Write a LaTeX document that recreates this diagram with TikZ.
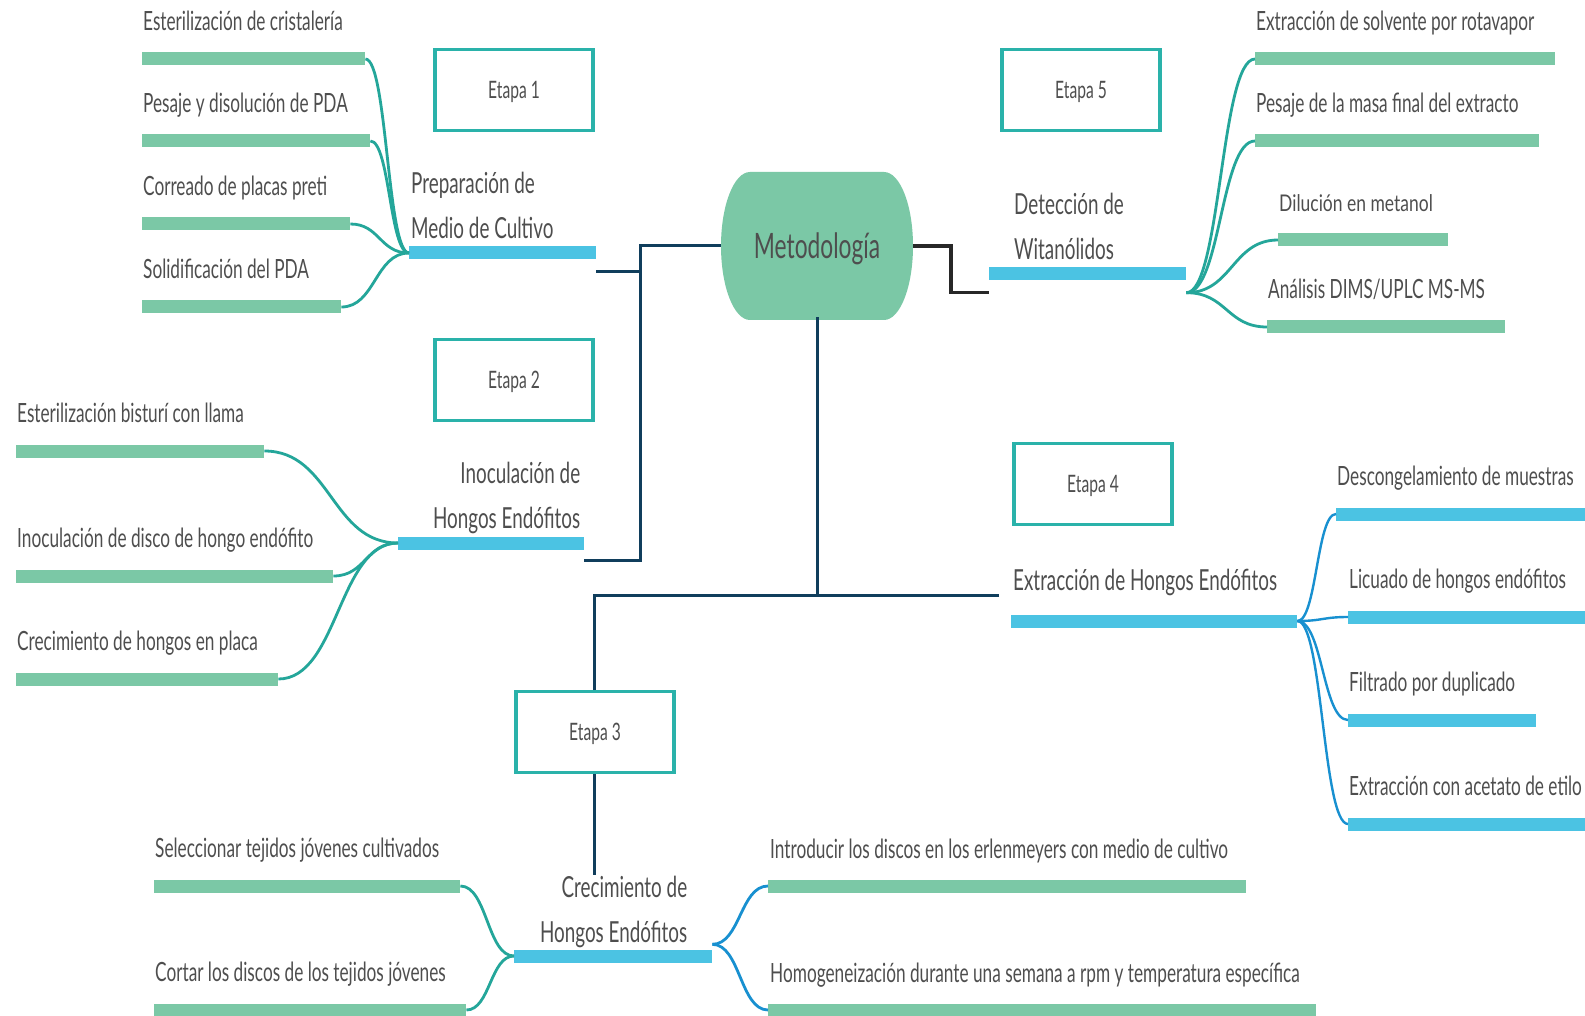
\documentclass[tikz,border=0pt]{standalone}
\usepackage{fontspec}
\setmainfont[FakeStretch=0.65]{Lato}
\newfontfamily\widelato[FakeStretch=0.76]{Lato}
\usetikzlibrary{positioning,calc}

\definecolor{leafgreen}{RGB}{123,200,166}
\definecolor{stemblue}{RGB}{75,195,227}
\definecolor{twigteal}{RGB}{36,166,154}
\definecolor{twigblue}{RGB}{24,144,208}
\definecolor{stageteal}{RGB}{42,178,170}
\definecolor{trunknavy}{RGB}{16,62,92}
\definecolor{darkline}{RGB}{40,40,40}
\definecolor{inkgray}{RGB}{78,78,78}

\tikzset{
  leafbar/.style={fill=leafgreen, inner sep=0pt, minimum height=13pt, anchor=west},
  stembar/.style={leafbar, fill=stemblue},
  leaftext/.style={inner sep=0pt, text depth=0pt, text=inkgray,
    font=\fontsize{26.5}{30}\selectfont},
  stemtext/.style={inner sep=0pt, text depth=0pt, text=inkgray,
    font=\fontsize{29}{45}\selectfont},
  stagebox/.style={draw=stageteal, line width=3.5pt, fill=white,
    minimum width=158pt, minimum height=81pt, text=inkgray,
    text height=17pt, text depth=0pt,
    font=\fontsize{24}{28}\selectfont},
  root/.style={minimum width=192pt, minimum height=148pt, inner sep=0pt,
    text=inkgray, text height=25pt, text depth=0pt,
    font=\fontsize{35}{40}\selectfont},
  twig/.style={line width=2.8pt, to path={
    let \p1=(\tikztostart), \p2=(\tikztotarget), \n1={0.5*(\x2-\x1)} in
    .. controls +(\n1,0) and +(-\n1,0) .. (\tikztotarget)}},
  trunk/.style={draw=trunknavy, line width=3pt},
}

\begin{document}
\begin{tikzpicture}[x=1pt, y=-1pt]
  \path[use as bounding box, fill=white] (0,0) rectangle (1585,1016);

  % central pill: flat top and bottom, half-ellipse sides
  \fill[leafgreen] (750,172) -- (884,172)
    arc[start angle=-90, end angle=90, x radius=29, y radius=74]
    -- (750,320)
    arc[start angle=90, end angle=270, x radius=29, y radius=74] -- cycle;
  \node[root] (root) at (817,246) {Metodología};

  % Etapa 1: medio de cultivo
  \node[stembar, minimum width=187pt] (bar1) at (409,253) {};
  \node[stemtext, align=left, above right=8pt and 2pt of bar1.north west] (t1)
    {Preparación de\\Medio de Cultivo};
  \node[leafbar, minimum width=223pt] (p1a) at (142,59) {};
  \node[leafbar, minimum width=228pt] (p1b) at (142,141) {};
  \node[leafbar, minimum width=208pt] (p1c) at (142,224) {};
  \node[leafbar, minimum width=199pt] (p1d) at (142,307) {};
  \node[leaftext, above right=22pt and 1pt of p1a.north west] {Esterilización de cristalería};
  \node[leaftext, above right=22pt and 1pt of p1b.north west] {Pesaje y disolución de PDA};
  \node[leaftext, above right=22pt and 1pt of p1c.north west] {Correado de placas preti};
  \node[leaftext, above right=22pt and 1pt of p1d.north west] {Solidificación del PDA};
  \foreach \l in {p1a,p1b,p1c,p1d}
    \draw[twig, twigteal] (\l.east) to (bar1.west);

  % Etapa 2: inoculacion
  \node[stembar, minimum width=186pt] (bar2) at (398,543) {};
  \node[stemtext, align=right, above left=8pt and 4pt of bar2.north east] (t2)
    {Inoculación de\\Hongos Endófitos};
  \node[leafbar, minimum width=248pt] (i2a) at (16,451) {};
  \node[leafbar, minimum width=317pt] (i2b) at (16,576) {};
  \node[leafbar, minimum width=262pt] (i2c) at (16,679) {};
  \node[leaftext, above right=22pt and 1pt of i2a.north west] {Esterilización bisturí con llama};
  \node[leaftext, above right=22pt and 1pt of i2b.north west] {Inoculación de disco de hongo endófito};
  \node[leaftext, above right=22pt and 1pt of i2c.north west] {Crecimiento de hongos en placa};
  \foreach \l in {i2a,i2b,i2c}
    \draw[twig, twigteal] (\l.east) to (bar2.west);

  % Etapa 3: crecimiento
  \node[stembar, minimum width=198pt] (bar3) at (514,956) {};
  \node[stemtext, align=right, above left=7pt and 25pt of bar3.north east] (t3)
    {Crecimiento de\\Hongos Endófitos};
  \node[leafbar, minimum width=306pt] (c3a) at (154,886) {};
  \node[leafbar, minimum width=312pt] (c3b) at (154,1010) {};
  \node[leafbar, minimum width=478pt] (c3c) at (768,886) {};
  \node[leafbar, minimum width=548pt] (c3d) at (768,1010) {};
  \node[leaftext, above right=22pt and 1pt of c3a.north west] {Seleccionar tejidos jóvenes cultivados};
  \node[leaftext, above right=22pt and 1pt of c3b.north west] {Cortar los discos de los tejidos jóvenes};
  \node[leaftext, above right=21pt and 2pt of c3c.north west] {Introducir los discos en los erlenmeyers con medio de cultivo};
  \node[leaftext, above right=21pt and 2pt of c3d.north west] {Homogeneización durante una semana a rpm y temperatura específica};
  \coordinate (j3) at ([yshift=5pt]bar3.north east);
  \foreach \l in {c3a,c3b}
    \draw[twig, twigteal] (\l.east) to (bar3.west);
  \foreach \l in {c3c,c3d}
    \draw[twig, twigblue] (j3) to (\l.west);

  % Etapa 4: extraccion
  \node[stembar, minimum width=286pt] (bar4) at (1011,621) {};
  \node[stemtext, above right=24pt and 2pt of bar4.north west] (t4)
    {Extracción de Hongos Endófitos};
  \node[stembar, minimum width=260pt] (x4a) at (1336,514) {};
  \node[stembar, minimum width=250pt] (x4b) at (1348,617) {};
  \node[stembar, minimum width=188pt] (x4c) at (1348,720) {};
  \node[stembar, minimum width=250pt] (x4d) at (1348,824) {};
  \node[leaftext, above right=22pt and 1pt of x4a.north west] {Descongelamiento de muestras};
  \node[leaftext, above right=22pt and 1pt of x4b.north west] {Licuado de hongos endófitos};
  \node[leaftext, above right=22pt and 1pt of x4c.north west] {Filtrado por duplicado};
  \node[leaftext, above right=22pt and 1pt of x4d.north west] {Extracción con acetato de etilo};
  \foreach \l in {x4a,x4b,x4c,x4d}
    \draw[twig, twigblue, line width=2.4pt] (bar4.east) to (\l.west);

  % Etapa 5: witanolidos
  \node[stembar, minimum width=197pt] (bar5) at (989,274) {};
  \node[stemtext, align=left, above right=8pt and 25pt of bar5.north west] (t5)
    {Detección de\\Witanólidos};
  \node[leafbar, minimum width=300pt] (d5a) at (1255,59) {};
  \node[leafbar, minimum width=284pt] (d5b) at (1255,141) {};
  \node[leafbar, minimum width=170pt] (d5c) at (1278,240) {};
  \node[leafbar, minimum width=238pt] (d5d) at (1267,327) {};
  \node[leaftext, above right=22pt and 1pt of d5a.north west] {Extracción de solvente por rotavapor};
  \node[leaftext, above right=22pt and 1pt of d5b.north west] {Pesaje de la masa final del extracto};
  \node[leaftext, font=\widelato\fontsize{23}{28}\selectfont,
        above right=22pt and 1pt of d5c.north west] {Dilución en metanol};
  \node[leaftext, above right=22pt and 1pt of d5d.north west] {Análisis DIMS/UPLC MS-MS};
  \coordinate (j5) at ([yshift=-12pt]bar5.south east);
  \foreach \l in {d5a,d5b,d5c,d5d}
    \draw[twig, twigteal] (j5) to (\l.west);

  % trunk lines out of the root
  \coordinate (in1) at ([yshift=-12pt]bar1.south east);
  \coordinate (in2) at ([yshift=-11pt]bar2.south east);
  \coordinate (in3) at ([xshift=80pt, yshift=74pt]bar3.north west);
  \coordinate (in4) at ([xshift=-12pt, yshift=19pt]bar4.north west);
  \coordinate (in5) at ([yshift=-12pt]bar5.south west);
  \draw[trunk] (root.west) -- ++(-80,0) coordinate (hub) |- (in2);
  \draw[trunk] (in1) -| (hub);
  \draw[trunk] ([yshift=3pt]root.south) |- (in4);
  \draw[trunk] (in4) -| (in3);
  \draw[darkline, line width=3.5pt] (root.east) -- ++(38,0) |- (in5);

  % Stage boxes
  \node[stagebox] (s1) at (514,90) {Etapa 1};
  \node[stagebox] (s2) at (514,380) {Etapa 2};
  \node[stagebox] (s3) at (595,732) {Etapa 3};
  \node[stagebox] (s4) at (1093,484) {Etapa 4};
  \node[stagebox] (s5) at (1081,90) {Etapa 5};
\end{tikzpicture}
\end{document}
